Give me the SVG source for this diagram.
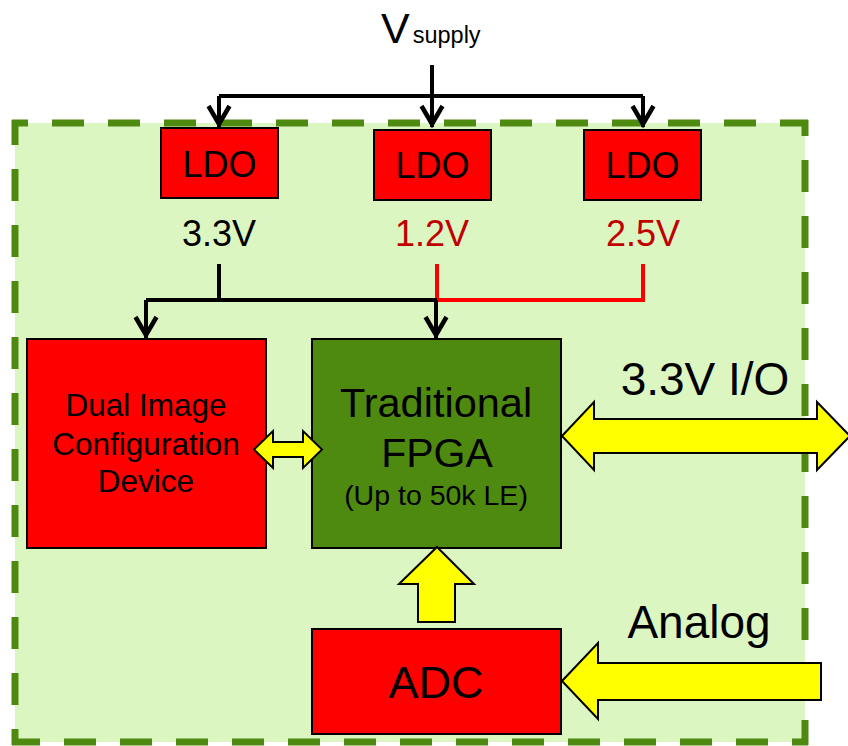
<svg xmlns="http://www.w3.org/2000/svg" width="848" height="746" viewBox="0 0 848 746">
  <defs>
    <style>
      text { font-family: "Liberation Sans", Arial, sans-serif; fill: #000; }
      .box { stroke: #000; stroke-width: 2; }
      .red { fill: #FF0000; }
      .green { fill: #4F8A10; }
      .wire { fill: none; stroke: #000; stroke-width: 4; stroke-linejoin: miter; }
      .rwire { fill: none; stroke: #FF0000; stroke-width: 4; }
      .yarrow { fill: #FFFF00; stroke: #000; stroke-width: 2; stroke-linejoin: miter; }
      .border { stroke: #4F8A10; stroke-width: 7; stroke-dasharray: 32 24; stroke-dashoffset: 16; fill: none; }
    </style>
    <marker id="chev" markerUnits="userSpaceOnUse" viewBox="-30 -15 35 30" refX="0" refY="0" markerWidth="35" markerHeight="30" orient="auto" overflow="visible">
      <path d="M-21,-10.5 L-3,0 L-21,10.5" fill="none" stroke="#000" stroke-width="4.5" stroke-linejoin="miter"/>
    </marker>
  </defs>

  <g id="board">
    <rect x="15" y="123" width="790" height="619" fill="#DCF6C2"/>
    <line class="border" x1="12" y1="123" x2="808" y2="123"/>
    <line class="border" x1="805" y1="120" x2="805" y2="745"/>
    <line class="border" x1="808" y1="742" x2="12" y2="742"/>
    <line class="border" x1="15" y1="745" x2="15" y2="120"/>
  </g>

  <g id="vsupply">
    <text x="381" y="43" font-size="43">V<tspan font-size="23.5" dx="3">supply</tspan></text>
  </g>

  <g id="ldo1">
    <rect class="box red" x="161" y="128" width="117" height="70"/>
    <text x="219.5" y="177" font-size="36" text-anchor="middle">LDO</text>
  </g>
  <g id="ldo2">
    <rect class="box red" x="374" y="130" width="117" height="70"/>
    <text x="432.5" y="178" font-size="36" text-anchor="middle">LDO</text>
  </g>
  <g id="ldo3">
    <rect class="box red" x="584" y="130" width="117" height="70"/>
    <text x="642.5" y="178" font-size="36" text-anchor="middle">LDO</text>
  </g>

  <g id="labels">
    <text x="219" y="246" font-size="36" text-anchor="middle">3.3V</text>
    <text x="432" y="246" font-size="36" text-anchor="middle" style="fill:#C00000">1.2V</text>
    <text x="643" y="246" font-size="36" text-anchor="middle" style="fill:#C00000">2.5V</text>
    <text x="705" y="395" font-size="46" text-anchor="middle">3.3V I/O</text>
    <text x="699" y="638" font-size="46" text-anchor="middle">Analog</text>
  </g>

  <g id="config">
    <rect class="box red" x="27" y="339" width="239" height="209"/>
    <text x="146" y="416" font-size="31.5" text-anchor="middle">Dual Image</text>
    <text x="146" y="455" font-size="31.5" text-anchor="middle">Configuration</text>
    <text x="146" y="492" font-size="31.5" text-anchor="middle">Device</text>
  </g>

  <g id="fpga">
    <rect class="box green" x="312" y="339" width="249" height="209"/>
    <text x="436" y="417" font-size="41.5" text-anchor="middle">Traditional</text>
    <text x="437" y="467" font-size="41" text-anchor="middle">FPGA</text>
    <text x="436" y="505" font-size="28.5" text-anchor="middle">(Up to 50k LE)</text>
  </g>

  <g id="adc">
    <rect class="box red" x="312" y="629" width="249" height="105"/>
    <text x="436" y="698" font-size="45" text-anchor="middle">ADC</text>
  </g>

  <g id="connectors">
    <path class="wire" d="M432,65 V127" marker-end="url(#chev)"/>
    <path class="wire" d="M219,96 H643"/>
    <path class="wire" d="M219,96 V127" marker-end="url(#chev)"/>
    <path class="wire" d="M643,96 V127" marker-end="url(#chev)"/>
    <path class="rwire" d="M437,264 V300 H643 V264"/>
    <path class="wire" d="M219,264 V300"/>
    <path class="wire" d="M146,300 H437"/>
    <path class="wire" d="M146,300 V338" marker-end="url(#chev)"/>
    <path class="wire" d="M436,300 V338" marker-end="url(#chev)"/>
    <polygon class="yarrow" points="254,449.5 273,431 273,442 303,442 303,431 322,449.5 303,468 303,457 273,457 273,468"/>
    <polygon class="yarrow" points="562,436 594,402 594,419 817,419 817,402 850,436 817,470 817,453 594,453 594,470"/>
    <polygon class="yarrow" points="437,547 474,584 455,584 455,622 418,622 418,584 399,584"/>
    <polygon class="yarrow" points="562,681 598,643 598,663 821,663 821,700 598,700 598,719"/>
  </g>
</svg>
